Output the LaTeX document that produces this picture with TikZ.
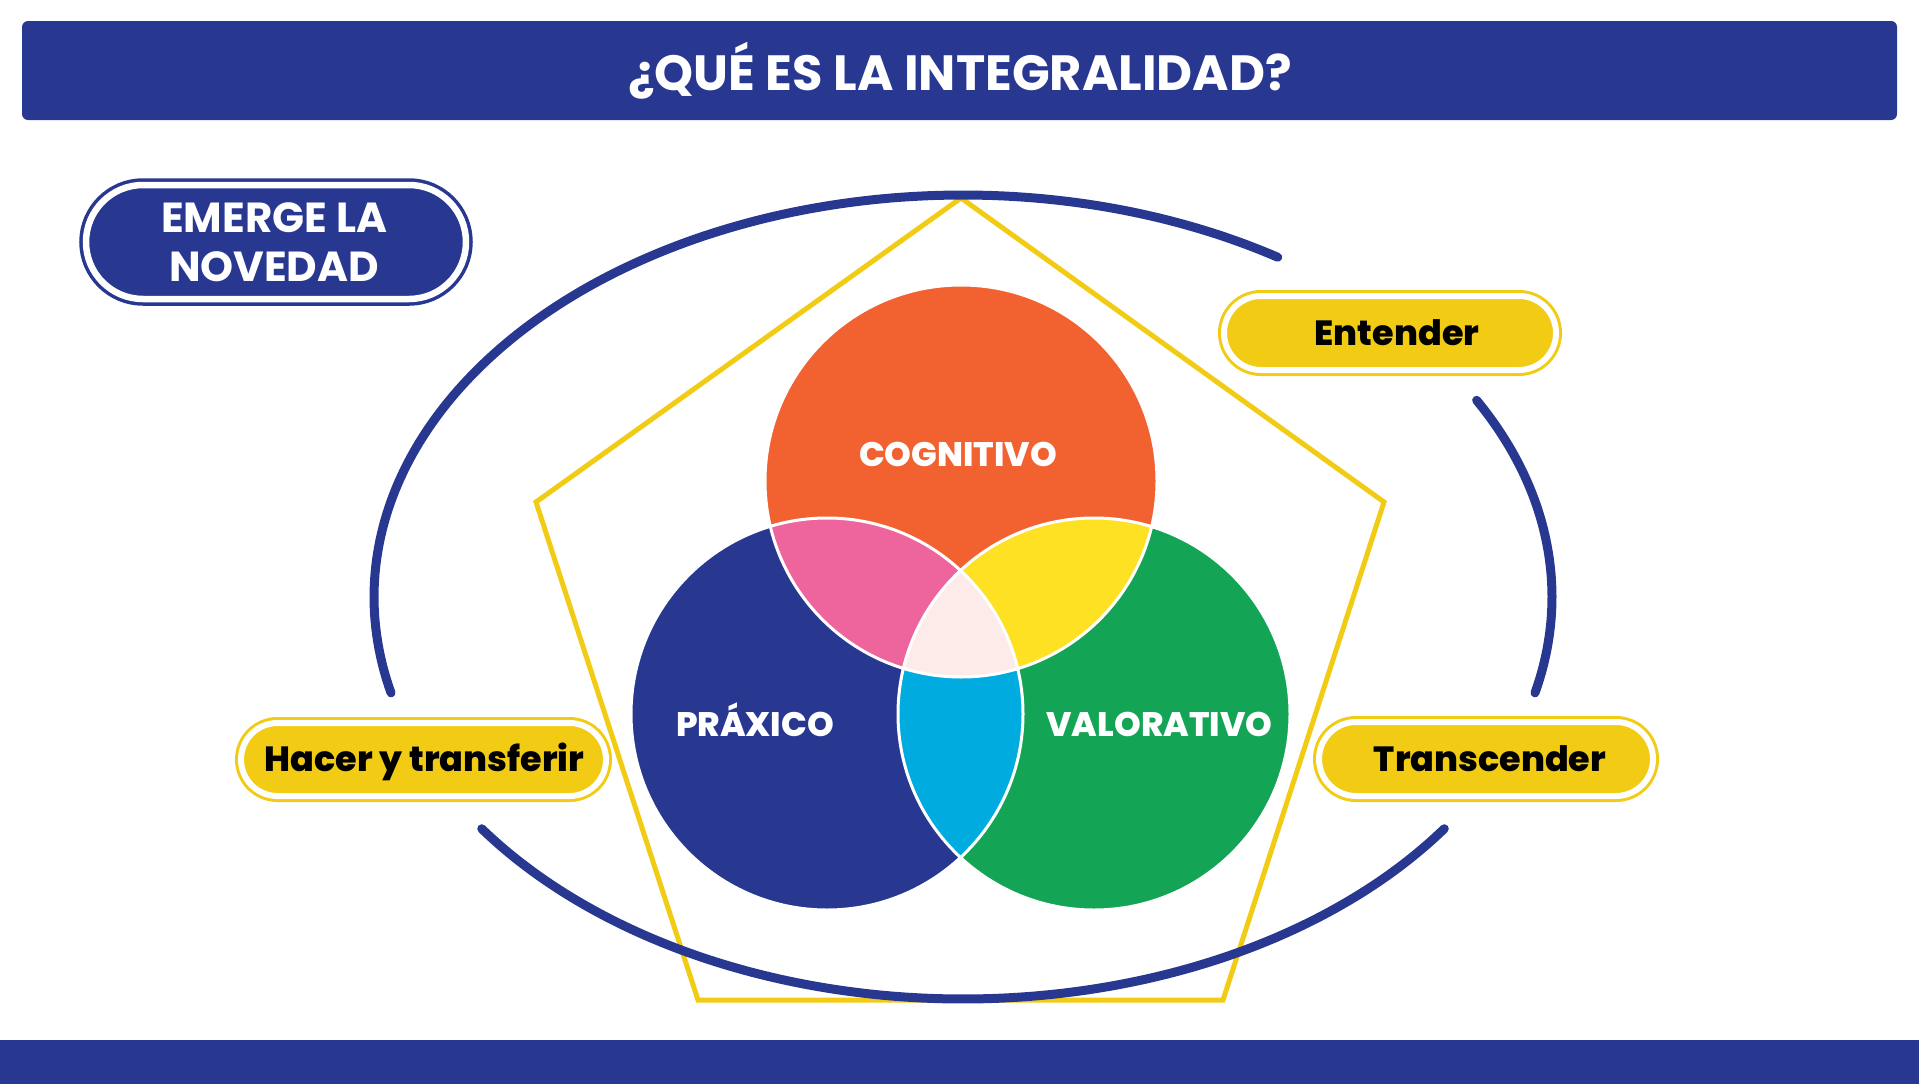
\documentclass[tikz,border=0pt]{standalone}
\usepackage{fontspec}
\setmainfont{Poppins}
\IfFontExistsTF{Poppins ExtraBold}{\newfontfamily\popx{Poppins ExtraBold}}{\newcommand\popx{\bfseries}}
\usetikzlibrary{shapes.misc}
\definecolor{navy}{HTML}{283891}
\definecolor{corange}{HTML}{F26230}
\definecolor{cgreen}{HTML}{13A555}
\definecolor{cpink}{HTML}{EE649C}
\definecolor{cyellow}{HTML}{FEE123}
\definecolor{ccyan}{HTML}{00ABDF}
\definecolor{ccenter}{HTML}{FDEBEA}
\definecolor{gold}{HTML}{F2CB14}
\begin{document}
\begin{tikzpicture}[x=1pt,y=-1pt,
  pillgold/.style={rounded rectangle, draw=gold, double=white, double distance=6pt,
    line width=3pt, fill=gold, inner sep=0pt, text=black,
    font=\popx\fontsize{35}{40}\selectfont, text height=24.5pt, text depth=0pt},
  pillnavy/.style={rounded rectangle, draw=navy, double=white, double distance=6.5pt,
    line width=3.5pt, fill=navy, inner sep=0pt, text=white, align=center,
    font=\bfseries\fontsize{42}{49}\selectfont},
  circlabel/.style={text=white, font=\popx\fontsize{34}{40}\selectfont, anchor=base},
  ellarc/.style={draw=navy, line width=9pt, line cap=round},
  penta/.style={draw=gold, line width=5pt}
]
\useasboundingbox (0,0) rectangle (1919,1084);
% bars
\fill[navy, rounded corners=6pt] (22,21) rectangle (1897,120);
\fill[navy] (0,1040) rectangle (1919,1084);
\node[text=white, font=\bfseries\fontsize{49.5}{56}\selectfont, anchor=base] (title) at (960,90) {¿QUÉ ES LA INTEGRALIDAD?};

% pentagon
\coordinate (pt) at (961,198);
\coordinate (pl) at (536,502);
\coordinate (pr) at (1384,502);
\coordinate (pbl) at (698,1000);
\coordinate (pbr) at (1223,1000);
\draw[penta] (pt) -- (pr) -- (pbr) -- (pbl) -- (pl) -- cycle;

% ellipse arcs
\draw[ellarc] plot[domain=57.7:193.8, samples=150, variable=\t] ({963+589*cos(\t)},{597-402*sin(\t)});
\draw[ellarc] plot[domain=-13.8:29.3, samples=60, variable=\t] ({963+589*cos(\t)},{597-402*sin(\t)});
\draw[ellarc] plot[domain=215.2:324.8, samples=150, variable=\t] ({963+589*cos(\t)},{597-402*sin(\t)});

% venn
\coordinate (C) at (961,481);
\coordinate (P) at (827,714);
\coordinate (V) at (1094,714);
\fill[corange] (C) circle[radius=196pt];
\fill[navy] (P) circle[radius=196pt];
\fill[cgreen] (V) circle[radius=196pt];
\begin{scope}\clip (C) circle[radius=196pt]; \fill[cpink] (P) circle[radius=196pt];\end{scope}
\begin{scope}\clip (C) circle[radius=196pt]; \fill[cyellow] (V) circle[radius=196pt];\end{scope}
\begin{scope}\clip (P) circle[radius=196pt]; \fill[ccyan] (V) circle[radius=196pt];\end{scope}
\begin{scope}\clip (C) circle[radius=196pt]; \clip (P) circle[radius=196pt]; \fill[ccenter] (V) circle[radius=196pt];\end{scope}
\draw[white, line width=3pt] (C) circle[radius=196pt] (P) circle[radius=196pt] (V) circle[radius=196pt];

\node[circlabel] (cog) at (958,466) {COGNITIVO};
\node[circlabel] (prax) at (755,736) {PRÁXICO};
\node[circlabel] (val) at (1159.5,736) {VALORATIVO};

% pills
\node[pillnavy, minimum width=380pt, minimum height=114pt] (emerge) at (276,242) {EMERGE LA\hspace*{4pt}\\NOVEDAD\hspace*{4pt}};
\node[pillgold, minimum width=332pt, minimum height=74pt] (entender) at (1390,333) {\hspace*{14pt}Entender};
\node[pillgold, minimum width=365pt, minimum height=73pt] (hacer) at (423.5,759.5) {\hspace*{2pt}Hacer y transferir};
\node[pillgold, minimum width=334pt, minimum height=74pt] (trans) at (1486,759) {\hspace*{8pt}Transcender};
\end{tikzpicture}
\end{document}
